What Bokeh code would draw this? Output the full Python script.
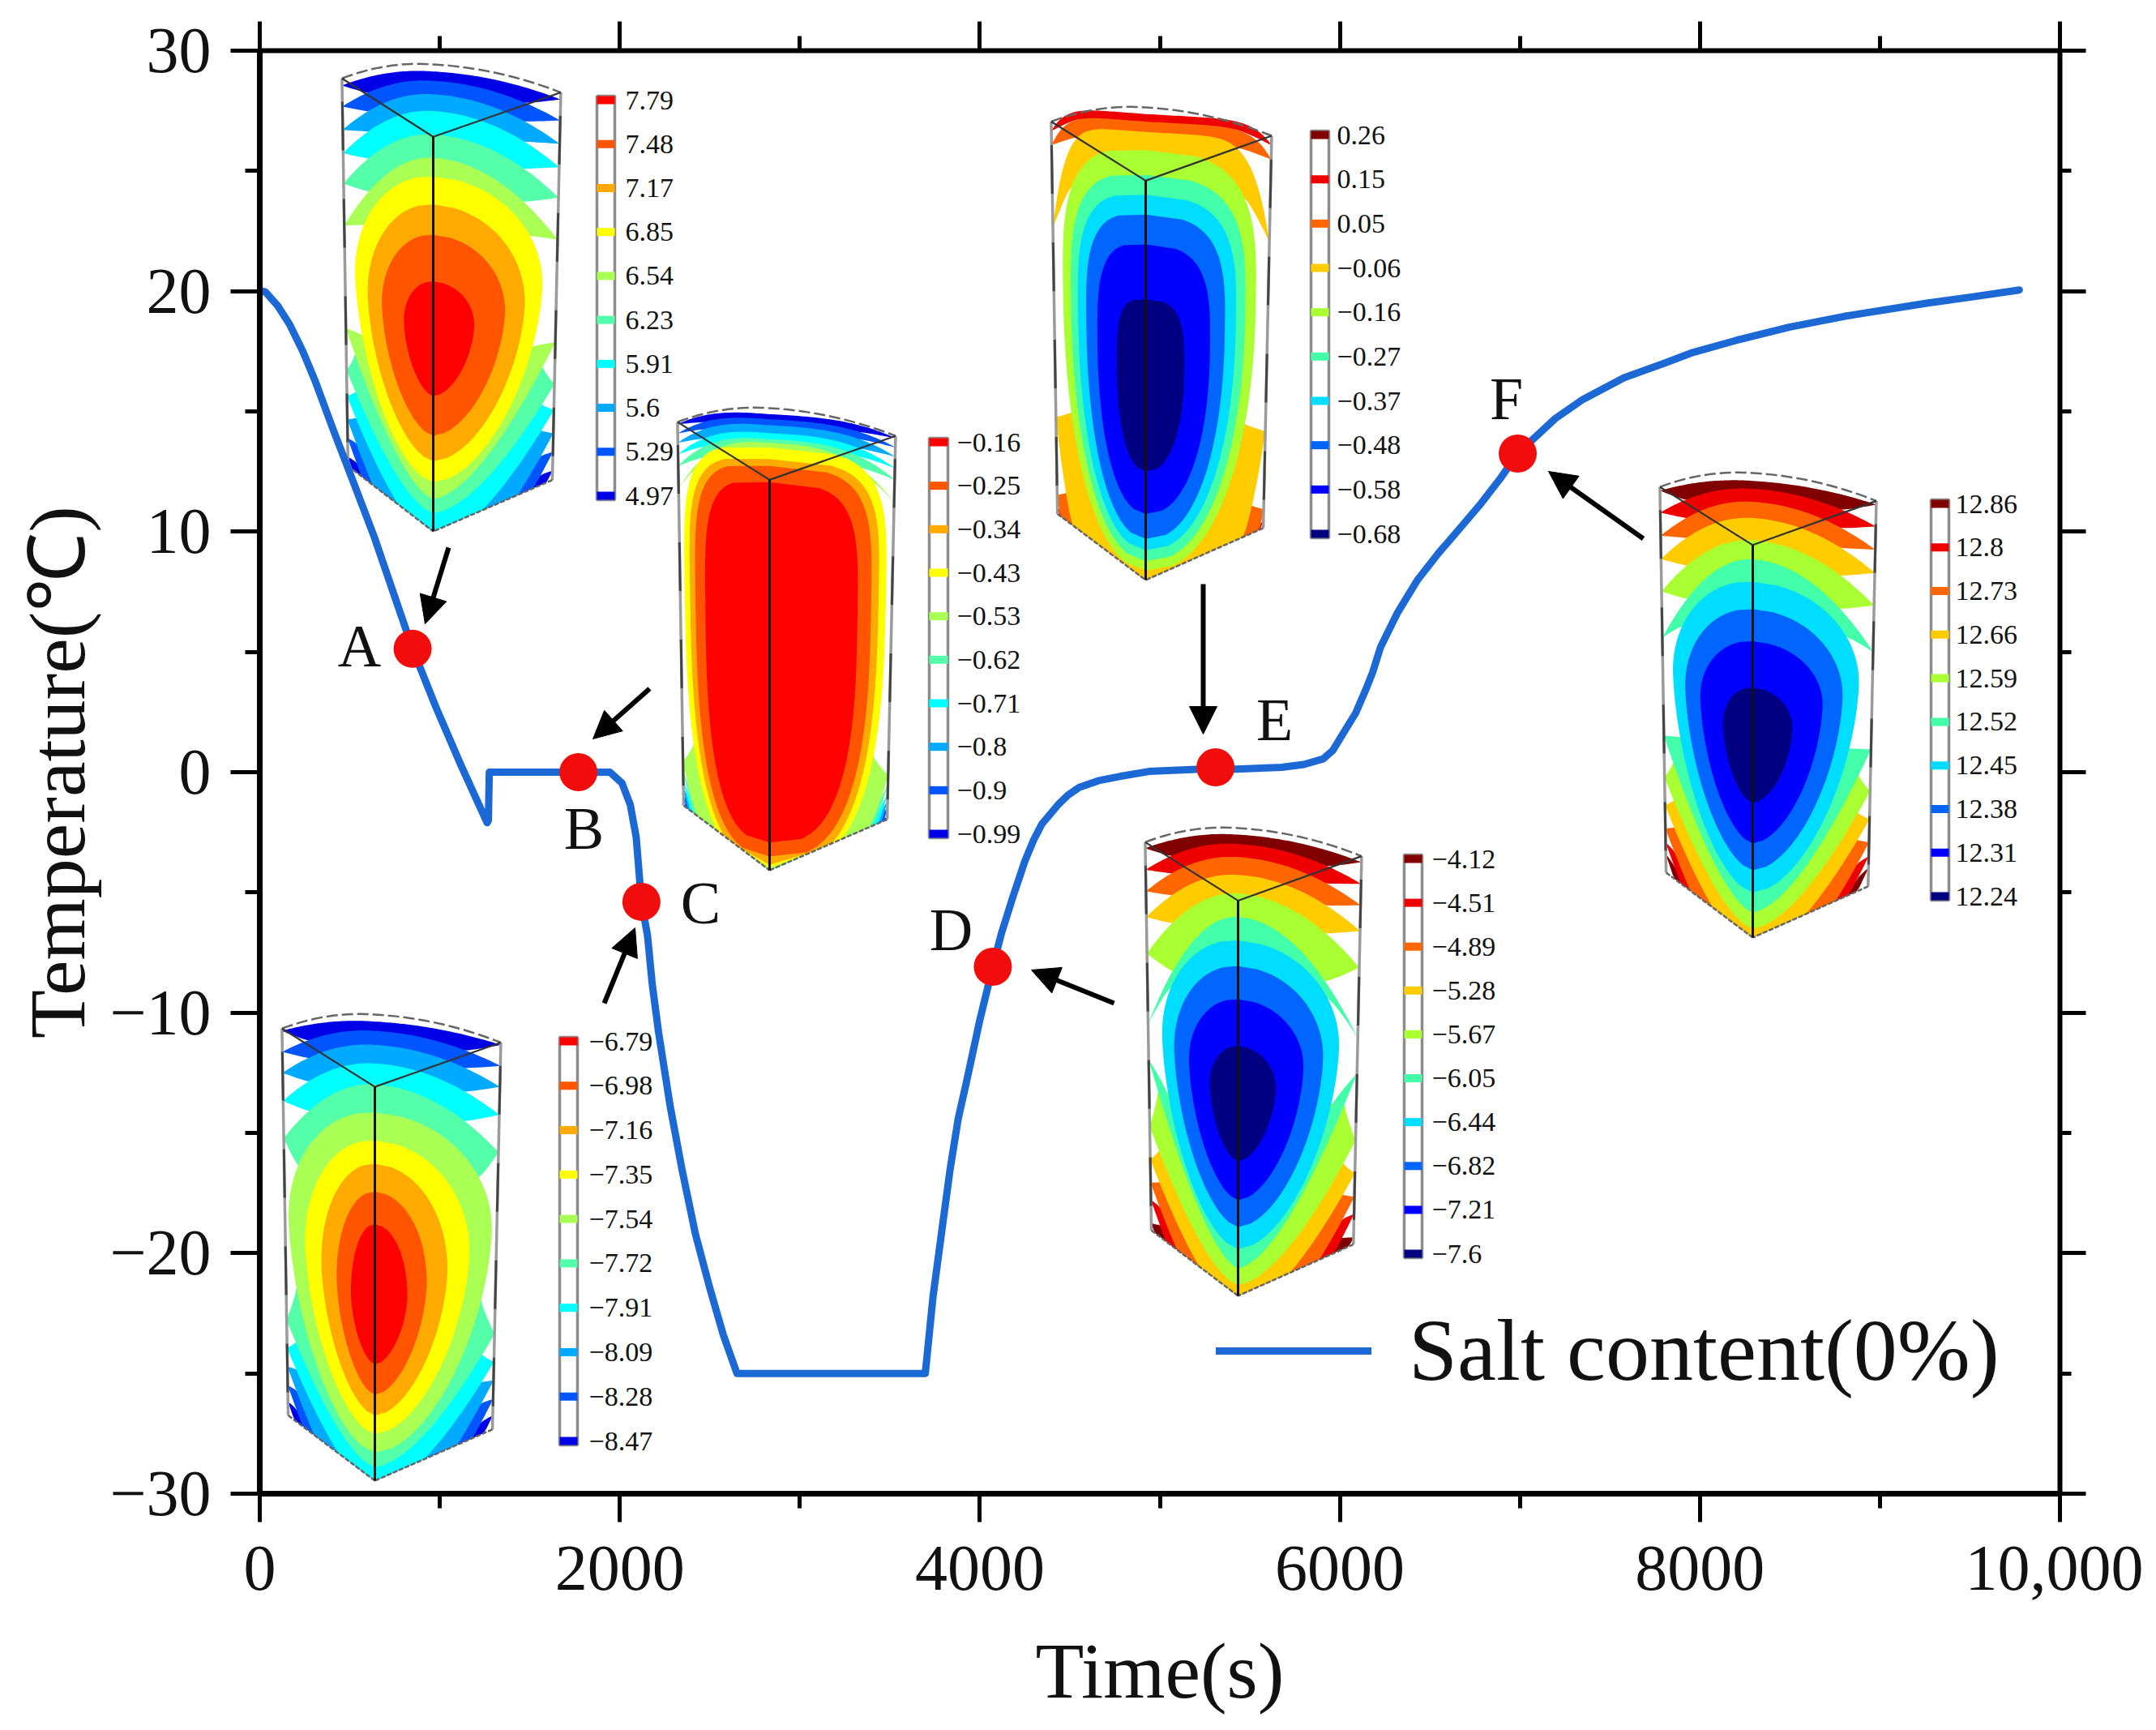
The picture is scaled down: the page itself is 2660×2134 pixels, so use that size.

import numpy as np
from bokeh.plotting import figure
from bokeh.embed import file_html
from bokeh.resources import INLINE
from bokeh.core.properties import value
from bokeh.models import (LinearAxis, FixedTicker, Arrow, NormalHead, Range1d)

# ---- main series ----
time_s = [15, 32, 99, 167, 239, 306, 410, 513, 635, 738, 849, 977, 1117, 1263, 1270, 1275, 1770, 1900, 1945, 2012,
          2058, 2091, 2120, 2154, 2180, 2215, 2280, 2345, 2420, 2498, 2575, 2651, 3697, 3740, 3790, 3835, 3880, 3931,
          4000, 4072, 4120, 4183, 4250, 4300, 4345, 4435, 4490, 4552, 4660,
          4782, 4939, 5309, 5423, 5677, 5800, 5907, 5960, 5997, 6088, 6146, 6182, 6226, 6318, 6432, 6547, 6662, 6776, 6890,
          6988, 7196, 7350, 7578, 7800, 7960, 8200, 8495, 8800, 9259, 9500, 9774]
temp_c = [20.0, 19.96, 19.4, 18.6, 17.5, 16.3, 14.2, 12.2, 9.8, 7.55, 5.13, 2.73, 0.3, -2.1, -2.0, 0.0, 0.0, 0.0, 0.0, -0.45,
          -1.35, -2.7, -5.39, -6.8, -8.8, -10.8, -13.9, -16.5, -19.2, -21.4, -23.4, -25.0, -25.0, -21.8, -19.0, -16.5, -14.4, -12.7,
          -10.3, -8.09, -6.7, -5.2, -3.7, -2.8, -2.15, -1.35, -0.95, -0.63, -0.35,
          -0.17, 0.03, 0.15, 0.13, 0.2, 0.32, 0.55, 0.9, 1.35, 2.46, 3.47, 4.15, 5.2, 6.6, 8.0, 9.1, 10.1, 11.1, 12.2,
          13.25, 14.7, 15.5, 16.4, 17.0, 17.45, 17.95, 18.5, 18.95, 19.5, 19.75, 20.05]
point_names = ["A", "B", "C", "D", "E", "F"]
point_t = [849, 1770, 2120, 4072, 5309, 6988]
point_T = [5.13, 0.0, -5.39, -8.09, 0.2, 13.25]

x_ticks = [0, 2000, 4000, 6000, 8000, 10000]
x_tick_labels = ["0", "2000", "4000", "6000", "8000", "10,000"]
x_minor = [1000, 3000, 5000, 7000, 9000]
y_ticks = [-30, -20, -10, 0, 10, 20, 30]
y_tick_labels = ["\u221230", "\u221220", "\u221210", "0", "10", "20", "30"]
y_minor = [-25, -15, -5, 5, 15, 25]

# ---- colour-bar labels of each inset ----
labels_A = ["7.79", "7.48", "7.17", "6.85", "6.54", "6.23", "5.91", "5.6", "5.29", "4.97"]
labels_B = ["\u22120.16", "\u22120.25", "\u22120.34", "\u22120.43", "\u22120.53", "\u22120.62", "\u22120.71", "\u22120.8", "\u22120.9", "\u22120.99"]
labels_C = ["\u22126.79", "\u22126.98", "\u22127.16", "\u22127.35", "\u22127.54", "\u22127.72", "\u22127.91", "\u22128.09", "\u22128.28", "\u22128.47"]
labels_D = ["\u22124.12", "\u22124.51", "\u22124.89", "\u22125.28", "\u22125.67", "\u22126.05", "\u22126.44", "\u22126.82", "\u22127.21", "\u22127.6"]
labels_E = ["0.26", "0.15", "0.05", "\u22120.06", "\u22120.16", "\u22120.27", "\u22120.37", "\u22120.48", "\u22120.58", "\u22120.68"]
labels_F = ["12.86", "12.8", "12.73", "12.66", "12.59", "12.52", "12.45", "12.38", "12.31", "12.24"]

warm = ["#0000e6", "#0055ff", "#00aaff", "#00ffff", "#55ffaa", "#aaff55", "#ffff00", "#ffaa00", "#ff5500", "#ff0000"]
cold = ["#000080", "#0000ff", "#0066ff", "#00ddff", "#44ffaa", "#aaff33", "#ffcc00", "#ff6600", "#ee0000", "#800000"]

# bands, outer to inner. crescents: colour, top apex, top tip, bottom apex, bottom tip (apex 0: no top part)
# eggs: colour, top, half width, widest height, bottom
cres_A = [[0, .985, .94, -.2, .145], [1, .965, .895, -.15, .185], [2, .936, .845, -.1, .225],
          [3, .90, .795, -.02, .275], [4, .85, .73, .04, .33], [5, .80, .64, .07, .42]]
eggs_A = [[6, .76, .885, .54, .105], [7, .70, .745, .50, .15], [8, .635, .585, .48, .205], [9, .535, .335, .447, .29]]
cres_B = [[0, .987, .95, -.2, .13], [1, .976, .93, -.15, .15], [2, .963, .91, -.1, .165],
          [3, .946, .885, -.06, .18], [4, .933, .86, -.03, .20], [5, .925, .81, -.02, .22]]
eggs_B = [[6, .915, .95, .6, .005], [7, .89, .89, .6, .012], [8, .875, .83, .58, .03], [9, .84, .72, .55, .06]]
cres_C = [[0, .985, .95, -.2, .155], [1, .965, .905, -.15, .19], [2, .935, .86, -.1, .23],
          [3, .895, .80, -.02, .27], [4, .85, .72, .03, .33]]
eggs_C = [[5, .79, .96, .55, .06], [6, .73, .78, .5, .10], [7, .68, .60, .46, .14], [8, .62, .43, .43, .185], [9, .55, .27, .40, .25]]
cres_D = [[9, .986, .942, -.2, .14], [8, .966, .896, -.15, .19], [7, .938, .85, -.1, .227],
          [6, .90, .795, -.03, .277], [5, .86, .717, .024, .347], [4, .81, .566, .06, .49]]
eggs_D = [[3, .76, .845, .545, .10], [2, .705, .713, .52, .147], [1, .634, .549, .497, .205], [0, .534, .318, .449, .288]]
cres_E = [[9, 0, 0, -.2, .125], [8, .986, .935, -.15, .14], [7, .97, .905, -.1, .165], [6, .948, .73, -.01, .33]]
eggs_E = [[5, .91, .90, .6, .02], [4, .857, .815, .58, .04], [3, .815, .74, .56, .063],
          [2, .773, .65, .54, .087], [1, .71, .53, .5, .14], [0, .594, .32, .45, .23]]
cres_F = [[9, .983, .947, -.2, .165], [8, .966, .90, -.15, .19], [7, .938, .85, -.1, .22],
          [6, .903, .80, -.03, .27], [5, .855, .73, .02, .33], [4, .814, .63, .055, .42]]
eggs_F = [[3, .766, .887, .56, .097], [2, .707, .753, .53, .145], [1, .638, .586, .51, .203], [0, .538, .335, .455, .29]]

# ---- page geometry (pixels in the picture) ----
PAGE_W, PAGE_H = 2644, 2118
FX0, FX1, FY0, FY1 = 321.0, 2542.0, 63.0, 1843.0
def dx(px): return (np.asarray(px, float) - FX0) / (FX1 - FX0) * 10000
def dy(py): return 30 - (np.asarray(py, float) - FY0) / (FY1 - FY0) * 60

p = figure(width=PAGE_W, height=PAGE_H, output_backend="svg", toolbar_location=None,
           x_range=Range1d(0, 10000), y_range=Range1d(-30, 30),
           min_border_left=320, min_border_top=62, min_border_right=2644 - 320 - 2221,
           min_border_bottom=2118 - 62 - 1780, x_axis_location=None, y_axis_location=None)
p.outline_line_color = None
p.grid.visible = False
p.background_fill_color = "white"

TICK_FONT = "Liberation Sans Narrow"
def style_axis(ax, major, minor, lw, labels):
    ax.major_tick_out = major; ax.major_tick_in = 0
    ax.minor_tick_out = minor; ax.minor_tick_in = 0
    ax.axis_line_width = lw; ax.major_tick_line_width = 5; ax.minor_tick_line_width = 5
    ax.axis_line_color = "black"; ax.major_tick_line_color = "black"; ax.minor_tick_line_color = "black"
    if not labels:
        ax.major_label_text_font_size = "0px"
        ax.major_label_text_color = None
    else:
        ax.major_label_text_font = TICK_FONT
        ax.major_label_text_font_size = "80px"
        ax.major_label_text_color = "#111111"
    ax.axis_label_text_font = "Liberation Serif"
    ax.axis_label_text_font_size = "98px"
    ax.axis_label_text_font_style = "normal"
    ax.axis_label_text_color = "#111111"

xt = FixedTicker(ticks=x_ticks, minor_ticks=x_minor)
yt = FixedTicker(ticks=y_ticks, minor_ticks=y_minor)
bottom = LinearAxis(ticker=xt, axis_label="Time(s)", axis_label_standoff=43, major_label_standoff=30)
left = LinearAxis(ticker=yt, axis_label="Temperature(\u2103)", axis_label_standoff=7, major_label_standoff=24)
top = LinearAxis(ticker=xt)
right = LinearAxis(ticker=yt)
bottom.major_label_overrides = dict(zip(x_ticks, x_tick_labels))
left.major_label_overrides = dict(zip(y_ticks, y_tick_labels))
style_axis(bottom, 35, 18, 7, True)
style_axis(left, 36, 18, 7, True)
style_axis(top, 36, 18, 6, False)
style_axis(right, 32, 14, 6, False)
p.add_layout(bottom, "below"); p.add_layout(left, "left"); p.add_layout(top, "above"); p.add_layout(right, "right")

BC = 0.125   # height of the lower corners
TC = 0.955   # height of the upper corners

def inset(cx, L, R, ytop, ybot, cres, eggs, pal, labels, cb, q=2.0, qb=1.6, pu=2.0, pl=1.7):
    H = ybot - ytop
    def X(u, v):
        u = np.asarray(u, float); v = np.asarray(v, float)
        f = 0.92 + 0.08 * np.clip(v, 0, 1)
        return dx(cx + np.where(u >= 0, R, L) * u * f)
    def Y(u, v):
        return dy(ybot - (np.asarray(v, float) - 0.015 * np.asarray(u, float)) * H)
    def up(row, u):
        u = abs(u)
        if row[0] == "c":
            return row[2] + (row[1] - row[2]) * (1 - u ** q)
        t = (1 - min(u / row[3], 1) ** pu) ** (1 / pu)
        return row[4] + (row[2] - row[4]) * t
    def lo(row, u):
        u = abs(u)
        if row[0] == "c":
            return row[4] + (row[3] - row[4]) * (1 - u ** qb)
        t = (1 - min(u / row[3], 1) ** pl) ** (1 / pl)
        return row[4] - (row[4] - row[5]) * t
    rows = [("c", r[1], r[2], r[3], r[4], r[0]) for r in cres]
    rows_e = [("e", r[1], r[1], r[2], r[3], r[4], r[0]) for r in eggs]
    # unified access: crescent ("c", vt, tt, vb, tb, col); egg ("e", _, vt, a, vc, vb, col)
    xs, ys, cols = [], [], []
    seq = rows + rows_e
    uu = np.linspace(-1, 1, 81)
    ss = np.linspace(1, 0, 9)   # runs from the tip in to the next band
    for i, row in enumerate(seq):
        col = pal[row[-1]]
        if row[0] == "c":
            nxt = seq[i + 1]
            is_egg = nxt[0] == "e"
            # top crescent: the lower edge is a lens running from the tip to the next band
            if row[1] > 0:
                u0 = 0.88 * nxt[3] if is_egg else 0.72
                vtop = [up(row, u) for u in uu]
                n, tip = up(nxt, u0), up(row, 1.0)
                edge_u = u0 + (1 - u0) * ss
                edge_v = n + (tip - n) * ss ** 1.2
                u_poly = list(uu) + list(edge_u) + list(-edge_u[::-1])
                v_poly = vtop + list(edge_v) + list(edge_v[::-1])
                xs.append(X(u_poly, v_poly)); ys.append(Y(u_poly, v_poly)); cols.append(col)
            # bottom crescent, cut by the lower edges
            u0 = 0.92 * nxt[3] if is_egg else 0.90
            vbot = [max(lo(row, u), BC * abs(u)) for u in uu]
            n, tip = max(lo(nxt, u0), BC * u0), lo(row, 1.0)
            edge_u = u0 + (1 - u0) * ss
            edge_v = n + (tip - n) * ss ** 0.8
            u_poly = list(uu) + list(edge_u) + list(-edge_u[::-1])
            v_poly = vbot + list(edge_v) + list(edge_v[::-1])
            xs.append(X(u_poly, v_poly)); ys.append(Y(u_poly, v_poly)); cols.append(col)
        else:
            _, _, vt, a, vc, vb, _ = row
            t = np.linspace(0, 1, 41)
            ur = a * (1 - t ** pu) ** (1 / pu)
            vr = vc + (vt - vc) * t
            ul = a * (1 - t ** pl) ** (1 / pl)
            vl = np.maximum(vc - (vc - vb) * t, BC * ul)
            u_poly = list(ur[::-1]) + list(ul[1:]) + list(-ul[::-1]) + list(-ur[1:])
            v_poly = list(vr[::-1]) + list(vl[1:]) + list(vl[::-1]) + list(vr[1:])
            xs.append(X(u_poly, v_poly)); ys.append(Y(u_poly, v_poly)); cols.append(col)
    p.patches(xs, ys, fill_color=cols, line_color=None)

    # wireframe
    arc_u = np.linspace(-1, 1, 41)
    arc_v = TC + (1 - TC) * (1 - arc_u ** 2)
    p.line(X(arc_u, arc_v), Y(arc_u, arc_v), line_color="#666666", line_width=2.5, line_dash="14 5")
    for su in (-1, 1):
        p.line(X([su, su], [TC, BC]), Y([su, su], [TC, BC]), line_color="#9a9a9a", line_width=3.5)
        p.line(X([su, su], [TC - .05, BC]), Y([su, su], [TC - .05, BC]), line_color="#444444", line_width=3, line_dash="60 60")
        p.line(X([su, 0], [TC, 0.845]), Y([su, 0], [TC, 0.845]), line_color="#333333", line_width=2.2)
        p.line(X([su, 0], [BC, 0]), Y([su, 0], [BC, 0]), line_color="#666666", line_width=2.5, line_dash="6 2")
    p.line(X([0, 0], [0.845, 0]), Y([0, 0], [0.845, 0]), line_color="#111111", line_width=3)

    # colour bar
    x0, x1, y0, y1, tx = cb
    p.quad(left=dx(x0), right=dx(x1), top=dy(y0), bottom=dy(y1), fill_color="white",
           line_color="#8c8c8c", line_width=3.5)
    ypos = np.linspace(y0 + 5, y1 - 5, 10)
    bar_cols = [pal[9 - i] for i in range(10)]
    p.quad(left=[float(dx(x0))] * 10, right=[float(dx(x1))] * 10, top=list(dy(ypos - 5)), bottom=list(dy(ypos + 5)),
           fill_color=bar_cols, line_color=None)
    p.text(x=[float(dx(tx))] * 10, y=list(dy(ypos)), text=labels, text_font=value("Liberation Serif"),
           text_font_size=value("34px"), text_baseline="middle", text_align="left", text_color="#111111")

inset(535, 113, 158, 80, 656, cres_A, eggs_A, warm, labels_A, (737, 759, 119, 617, 772))
inset(950, 114, 156, 504, 1074, cres_B, eggs_B, warm, labels_B, (1147, 1170, 541, 1034, 1181), q=3.0, qb=4.0, pu=4.0, pl=2.8)
inset(463, 115, 156, 1252, 1827, cres_C, eggs_C, warm, labels_C, (691, 713, 1280, 1783, 727))
inset(1528, 115, 153, 1022, 1599, cres_D, eggs_D, cold, labels_D, (1733, 1755, 1055, 1552, 1767))
inset(1414, 117, 156, 133, 716, cres_E, eggs_E, cold, labels_E, (1618, 1640, 162, 664, 1650), q=7.0, qb=6.0, pu=3.2, pl=2.2)
inset(2163, 115, 153, 584, 1157, cres_F, eggs_F, cold, labels_F, (2383, 2405, 617, 1111, 2413))

# ---- curve, points, letters, arrows ----
LINE = "#1c69d6"
p.line(time_s, temp_c, line_color=LINE, line_width=9, line_join="round", line_cap="round",
       legend_label="Salt content(0%)")
p.scatter(point_t, point_T, size=47, fill_color="#f20d0d", line_color=None, marker="circle")

arrows = [((554, 676), (525, 770)), ((802, 850), (732, 912)), ((746, 1238), (784, 1145)),
          ((1375, 1238), (1273, 1197)), ((1485, 721), (1485, 906)), ((2028, 665), (1911, 582))]
for s, e in arrows:
    p.add_layout(Arrow(end=NormalHead(size=34, fill_color="black", line_color="black", line_width=1),
                       x_start=float(dx(s[0])), y_start=float(dy(s[1])), x_end=float(dx(e[0])), y_end=float(dy(e[1])),
                       line_color="black", line_width=6))

letter_x = [444, 721, 865, 1174, 1573, 1859]
letter_y = [797, 1022, 1114, 1147, 888, 492]
p.text(x=list(dx(letter_x)), y=list(dy(letter_y)), text=point_names, text_font=value("Liberation Serif"),
       text_font_size=value("74px"), text_align="center", text_baseline="middle", text_color="#111111")

lg = p.legend[0]
lg.location = (1180, 114)
lg.background_fill_alpha = 0
lg.border_line_color = None
lg.padding = 0
lg.margin = 0
lg.glyph_width = 192
lg.glyph_height = 24
lg.label_standoff = 46
lg.label_text_font = "Liberation Serif"
lg.label_text_font_size = "108px"
lg.label_text_color = "#111111"

open("out.html", "w").write(file_html(p, INLINE))
